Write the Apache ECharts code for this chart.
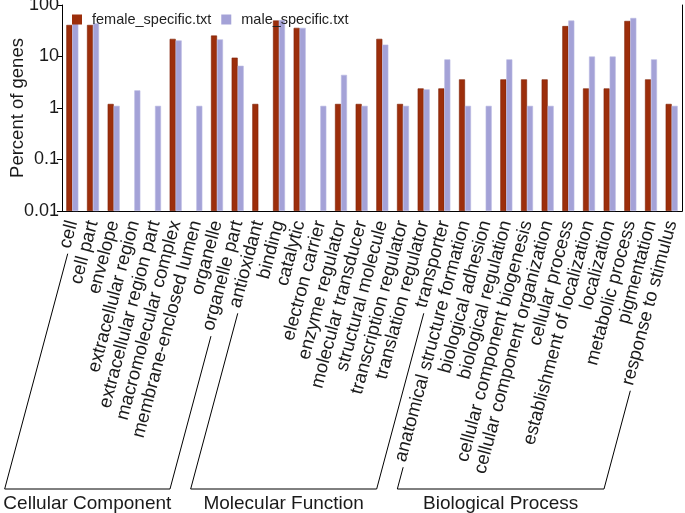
<!DOCTYPE html>
<html>
<head>
<meta charset="utf-8">
<script src="https://cdn.jsdelivr.net/npm/echarts@6/dist/echarts.min.js"></script>
<style>
  html, body { margin: 0; padding: 0; background: #fff; }
  #chart { width: 685px; height: 513px; }
</style>
</head>
<body>
<div id="chart"></div>
<script>
const categories = [
  'cell', 'cell part', 'envelope', 'extracellular region', 'extracellular region part',
  'macromolecular complex', 'membrane-enclosed lumen', 'organelle', 'organelle part',
  'antioxidant', 'binding', 'catalytic', 'electron carrier', 'enzyme regulator',
  'molecular transducer', 'structural molecule', 'transcription regulator',
  'translation regulator', 'transporter',
  'anatomical structure formation', 'biological adhesion', 'biological regulation',
  'cellular component biogenesis', 'cellular component organization', 'cellular process',
  'establishment of localization', 'localization', 'metabolic process', 'pigmentation',
  'response to stimulus'
]
// percent of genes, null = no bar
const female = [
  41, 41, 1.2, null, null, 22, null, 25.5, 9.5,
  1.2, 50, 36, null, 1.2, 1.2, 22, 1.2, 2.4, 2.4,
  3.6, null, 3.6, 3.6, 3.6, 39, 2.4, 2.4, 49, 3.6, 1.2
]
const male = [
  44, 44, 1.1, 2.2, 1.1, 20.5, 1.1, 21.5, 6.6,
  null, 51, 36, 1.1, 4.4, 1.1, 17, 1.1, 2.3, 8.8,
  1.1, 1.1, 8.8, 1.1, 1.1, 50, 10, 10, 56, 8.8, 1.1
]
const yTicks = ['0.01', '0.1', '1', '10', '100']
const groups = [
  { name: 'Cellular Component', from: 0, to: 8 },
  { name: 'Molecular Function', from: 9, to: 18 },
  { name: 'Biological Process', from: 19, to: 29 },
]

const font = '"Liberation Sans", Arial, Helvetica, sans-serif'
const labelSize = 18.5
const labelRotate = 75
const labelMargin = 10
const labelShift = 8 // top padding, nudges the rotated labels off the tick
const bracketY = 489

// log10 shifted so that 0.01 sits on the axis floor
const toLog = v => (v == null ? null : Math.log10(v) + 2)

const chart = echarts.init(document.getElementById('chart'))

chart.setOption({
  animation: false,
  textStyle: { fontFamily: font },
  color: ['#9c2e0b', '#a4a2d7'],
  grid: { left: 62, right: 3, top: 5, bottom: 302, outerBoundsMode: 'none' },
  legend: {
    left: 72,
    top: 12,
    padding: 0,
    itemWidth: 10,
    itemHeight: 10,
    itemGap: 10,
    icon: 'rect',
    itemStyle: { borderWidth: 0 },
    textStyle: { fontSize: 14.5, color: '#222', fontFamily: font, padding: [0, 0, 0, 5] },
  },
  xAxis: [
    {
      type: 'category',
      data: categories,
      axisLine: { lineStyle: { color: '#000', width: 1 } },
      axisTick: { inside: true, length: 3, lineStyle: { color: '#000' } },
      axisLabel: {
        rotate: labelRotate,
        interval: 0,
        margin: labelMargin,
        padding: [labelShift, 0, 0, 0],
        fontSize: labelSize,
        color: '#1a1a1a',
        fontFamily: font,
      },
    },
    {
      type: 'category',
      data: categories,
      position: 'top',
      axisLine: { lineStyle: { color: '#000', width: 1 } },
      axisTick: { inside: true, length: 4, lineStyle: { color: '#000' } },
      axisLabel: { show: false },
    },
  ],
  yAxis: [
    {
      type: 'value',
      min: 0,
      max: 4,
      interval: 1,
      name: 'Percent of genes',
      nameLocation: 'middle',
      nameGap: 35,
      nameMoveOverlap: false,
      nameTextStyle: { fontSize: 18.5, color: '#1a1a1a', fontFamily: font },
      axisLine: { show: true, lineStyle: { color: '#000', width: 1 } },
      axisTick: { show: true, length: 5, lineStyle: { color: '#000' } },
      splitLine: { show: false },
      axisLabel: {
        fontSize: 18,
        color: '#1a1a1a',
        margin: 3,
        fontFamily: font,
        formatter: v => yTicks[v],
      },
    },
    {
      type: 'value',
      min: 0,
      max: 4,
      interval: 1,
      position: 'right',
      axisLine: { show: true, lineStyle: { color: '#000', width: 1 } },
      axisTick: { show: false },
      splitLine: { show: false },
      axisLabel: { show: false },
    },
  ],
  series: [
    {
      name: 'female_specific.txt',
      type: 'bar',
      data: female.map(toLog),
      barWidth: 6,
      barGap: '0%',
      itemStyle: { borderColor: '#7e2207', borderWidth: 0.6 },
    },
    {
      name: 'male_specific.txt',
      type: 'bar',
      data: male.map(toLog),
      barWidth: 6,
      barGap: '0%',
      itemStyle: { borderColor: '#b9b8e2', borderWidth: 0.6 },
    },
  ],
})

// group brackets, following the slant of the rotated labels
const ctx = document.createElement('canvas').getContext('2d')
ctx.font = labelSize + 'px ' + font
const ang = labelRotate * Math.PI / 180
const cs = Math.cos(ang)
const sn = Math.sin(ang)
const axisY = chart.convertToPixel({ yAxisIndex: 0 }, 0)

function leg (i) {
  const half = labelShift / 2
  const x = chart.convertToPixel({ xAxisIndex: 0 }, i) + half * sn
  const y = axisY + labelMargin + half * cs
  const w = ctx.measureText(categories[i]).width + 5
  const sx = x - w * cs
  const sy = y + w * sn
  const bx = sx - (bracketY - sy) * cs / sn
  return [[sx, sy], [bx, bracketY]]
}

const graphic = []
groups.forEach(g => {
  const a = leg(g.from)
  const b = leg(g.to)
  graphic.push({
    type: 'polyline',
    shape: { points: [a[0], a[1], b[1], b[0]] },
    style: { stroke: '#000', lineWidth: 1, fill: null },
  })
  graphic.push({
    type: 'text',
    x: (a[1][0] + b[1][0]) / 2,
    y: bracketY + 5,
    style: {
      text: g.name,
      font: '19px ' + font,
      fill: '#1a1a1a',
      align: 'center',
      verticalAlign: 'top',
    },
  })
})
chart.setOption({ graphic })
</script>
</body>
</html>
